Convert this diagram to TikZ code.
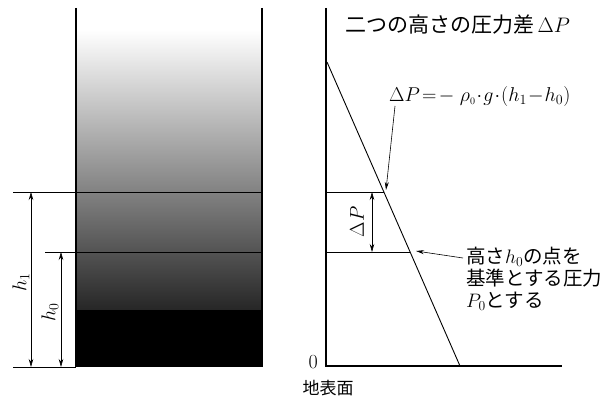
\RequirePackage{fix-cm}
\documentclass[tikz,border=0pt]{standalone}
\usepackage{fontspec}
\newfontfamily\jfont{Noto Sans CJK JP}
\usepackage{amsmath}
\usetikzlibrary{arrows.meta}

\tikzset{
  wall/.style={line width=2.2pt},
  level/.style={line width=0.6pt},
  dimarrow/.style={line width=0.6pt,{Stealth[length=8pt,width=4.5pt]}-{Stealth[length=8pt,width=4.5pt]}},
  leader/.style={line width=0.6pt,-{Stealth[length=8pt,width=4pt]}},
  jtext/.style={font=\jfont\fontsize{19.5}{22}\selectfont,align=left,inner sep=0pt},
  mtext/.style={font=\fontsize{20}{22}\selectfont,inner sep=0pt},
}

\begin{document}
\begin{tikzpicture}[x=1pt,y=-1pt]
\useasboundingbox (0,0) rectangle (612,401);

% column of air, darker towards the ground
\shade[top color=white,bottom color=black!85] (76,30) rectangle (262,310);
\fill[black] (76,310) rectangle (262,367);
\draw[wall] (76,8) -- (76,367);
\draw[wall] (262,8) -- (262,367);

% heights
\coordinate (hone) at (13,192);
\coordinate (hzero) at (45,252);
\coordinate (ground) at (13,367);
\draw[level] (hone) -- (262,192);
\draw[level] (hzero) -- (262,252);
\draw[level] (ground) -- (76,367);
\coordinate (honetop) at (31,192);
\coordinate (honebot) at (31,367);
\coordinate (hzerotop) at (61,252);
\coordinate (hzerobot) at (61,367);
\draw[dimarrow] (honetop) -- (honebot);
\draw[dimarrow] (hzerotop) -- (hzerobot);
\node[mtext,rotate=90] (hlabelone) at (21,282) {$h_1$};
\node[mtext,rotate=90] (hlabelzero) at (50,312) {$h_0$};

% pressure diagram
\coordinate (origin) at (326,366);
\draw[wall] (326,8) -- (origin) -- (562,366);
\node[mtext,anchor=east] (zero) at (318,362) {$0$};
\node[jtext,font=\jfont\fontsize{17}{20}\selectfont] (surface) at (328,388) {地表面};
\node[jtext,anchor=west,font=\jfont\fontsize{21}{24}\selectfont] (title) at (345,25) {二つの高さの圧力差\,$\Delta P$};

\coordinate (ptop) at (327,62);
\coordinate (pbot) at (460,366);
\draw[line width=0.9pt] (ptop) -- (pbot);
\coordinate (pone) at (384,192);
\coordinate (pzero) at (410,252);
\draw[level] (326,192) -- (pone);
\draw[level] (326,252) -- (pzero);
\coordinate (dptop) at (372,192);
\coordinate (dpbot) at (372,252);
\draw[dimarrow] (dptop) -- (dpbot);
\node[mtext,rotate=90] (dplabel) at (357,222) {$\Delta P$};

\node[mtext,anchor=west] (formula) at (389,97) {$\Delta P\!=\!-\;\rho_{\scriptscriptstyle 0}\!\cdot\! g\!\cdot\!(h_1\!-\!h_0)$};
\draw[leader] (395,106) -- (386,190);

\node[jtext,anchor=north west] (base) at (466,247) {高さ$h_0$の点を\\基準とする圧力\\$P_0$とする};
\draw[leader] (463,258) -- (416,251);
\end{tikzpicture}
\end{document}
